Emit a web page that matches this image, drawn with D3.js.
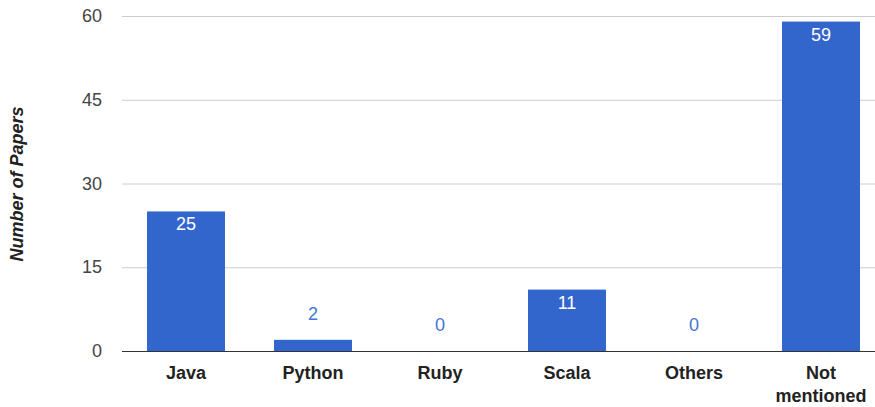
<!DOCTYPE html>
<html><head><meta charset="utf-8">
<script src="https://cdn.jsdelivr.net/npm/d3@7"></script>
<style>body{margin:0;background:#fff;} text{font-family:Arial,"Liberation Sans",sans-serif;}</style>
</head><body><svg id="c" width="875" height="407"></svg>
<script>
const categories = ["Java","Python","Ruby","Scala","Others","Not mentioned"];
const values = [25,2,0,11,0,59];
const yTicks = [0,15,30,45,60];
const yTitle = "Number of Papers";

(function(){
const svg = d3.select("#c");
const pLeft = 122, pRight = 875, pTop = 16, pBottom = 351;
const x = d3.scaleBand().domain(categories).range([122.5, 884.5]).paddingInner(0.386).paddingOuter(0.193);
const y = d3.scaleLinear().domain([0,60]).range([pBottom, pTop]);

// gridlines
svg.append("g").selectAll("line").data(yTicks.filter(t=>t!==0)).join("line")
  .attr("x1", pLeft).attr("x2", pRight)
  .attr("y1", d=>y(d)+0.5).attr("y2", d=>y(d)+0.5)
  .attr("stroke", "#cccccc").attr("stroke-width", 1);

// y labels
svg.append("g").selectAll("text").data(yTicks).join("text")
  .attr("x", 102).attr("y", d=>y(d)+6)
  .attr("text-anchor","end").attr("font-size",18).attr("fill","#444")
  .text(d=>d);

// bars
svg.append("g").selectAll("rect").data(values).join("rect")
  .attr("x",(d,i)=>x(categories[i])).attr("width", x.bandwidth())
  .attr("y", d=>y(d)).attr("height", d=>pBottom - y(d))
  .attr("fill","#3366cc");

// baseline
svg.append("line").attr("x1",pLeft).attr("x2",pRight).attr("y1",pBottom+0.5).attr("y2",pBottom+0.5)
  .attr("stroke","#333").attr("stroke-width",1);

// value labels
svg.append("g").selectAll("text").data(values).join("text")
  .attr("x",(d,i)=>x(categories[i]) + x.bandwidth()/2)
  .attr("y", d=> d >= 5 ? y(d)+19 : y(d)-20)
  .attr("text-anchor","middle").attr("font-size",18)
  .attr("fill", d=> d >= 5 ? "#ffffff" : "#4474d8")
  .text(d=>d);

// category labels
const cat = svg.append("g").selectAll("text").data(categories).join("text")
  .attr("x", d=>x(d)+x.bandwidth()/2).attr("y", 379)
  .attr("text-anchor","middle").attr("font-size",18).attr("font-weight","bold").attr("fill","#222");
cat.each(function(d){
  const words = d === "Not mentioned" ? ["Not","mentioned"] : [d];
  const t = d3.select(this);
  words.forEach((w,i)=>{
    t.append("tspan").attr("x", x(d)+x.bandwidth()/2).attr("dy", i===0 ? 0 : 23).text(w);
  });
});

// y title
svg.append("text").attr("transform","translate(23,184) rotate(-90)")
  .attr("text-anchor","middle").attr("font-size",18).attr("font-weight","bold").attr("font-style","italic")
  .attr("fill","#222").text(yTitle);
})();
</script></body></html>
